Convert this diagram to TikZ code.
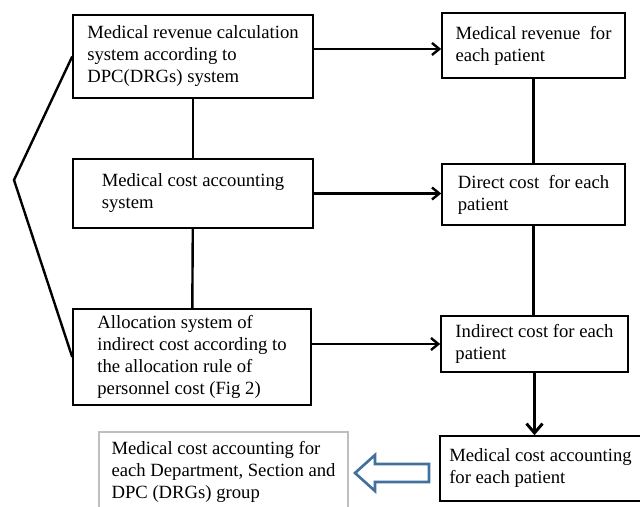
\documentclass[tikz,border=0pt]{standalone}
\usepackage{fontspec}
\setmainfont{Liberation Serif}
\usetikzlibrary{arrows.meta}
\definecolor{arrowblue}{HTML}{41719C}
\definecolor{boxgray}{HTML}{BFBFBF}
\newcommand{\pxl}{0.75pt}

\begin{document}
\begin{tikzpicture}[x=\pxl,y=-\pxl,
	box/.style={draw,line width=1.2pt,align=left,inner sep=0pt,font=\fontsize{14}{16.5}\selectfont},
	link/.style={line width=1.8pt},
	arr/.style={line width=1.8pt,-{Straight Barb[length=5.5pt,width=9pt]}}]
	
	\clip (0,0) rectangle (640,507);
	
	% left column
	\node[box,minimum width=180pt,minimum height=62.25pt] (revsys) at (193,56.5)
		{Medical revenue calculation\\system according to\\DPC(DRGs) system};
	\node[box,minimum width=180pt,minimum height=51.75pt] (costsys) at (193,193.5)
		{Medical cost accounting\\system};
	\node[box,minimum width=178.5pt,minimum height=72pt] (allocsys) at (192,357)
		{Allocation system of\\indirect cost according to\\the allocation rule of\\personnel cost (Fig 2)};
	\node[box,draw=boxgray,line width=1.3pt,minimum width=186.75pt,minimum height=60pt] (deptcost) at (223.5,472)
		{Medical cost accounting for\\each Department, Section and\\DPC (DRGs) group};
	
	% right column
	\node[box,minimum width=137.25pt,minimum height=48.75pt] (revpat) at (533.5,45.5)
		{Medical revenue~ for\\each patient};
	\node[box,minimum width=137.25pt,minimum height=45.75pt] (dirpat) at (533.5,194.5)
		{Direct cost~ for each\\patient};
	\node[box,minimum width=140.25pt,minimum height=42pt] (indpat) at (534.5,344)
		{Indirect cost for each\\patient};
	\node[box,minimum width=150.75pt,minimum height=48.75pt] (costpat) at (540.5,468.5)
		{Medical cost accounting\\for each patient};
	
	\coordinate (brace) at (14,180);
	
	\draw[link] (revsys) -- (costsys);
	\draw[link] (costsys) -- (allocsys);
	\draw[link] (revpat) -- (dirpat);
	\draw[link] (dirpat.south) -- (dirpat.south |- indpat.north);
	\draw[line width=2.2pt,-{Straight Barb[length=7pt,width=12pt]}] (indpat.south) -- (indpat.south |- costpat.north);
	
	\draw[arr] ([yshift=-2.6pt]revsys.east |- revpat.west) -- ([yshift=-2.6pt]revpat.west);
	\draw[arr] (costsys.east) -- (costsys.east -| dirpat.west);
	\draw[arr] (allocsys.east |- indpat.west) -- (indpat.west);
	
	\draw[line width=1.8pt] (revsys.west) -- (brace) -- (allocsys.west);
	
	% hollow arrow
	\draw[arrowblue,line width=2pt,fill=white] (355,473) -- ++(20,-18) -- ++(0,9) -- ++(54,0)
		-- ++(0,18) -- ++(-54,0) -- ++(0,9) -- cycle;
	
\end{tikzpicture}
\end{document}
